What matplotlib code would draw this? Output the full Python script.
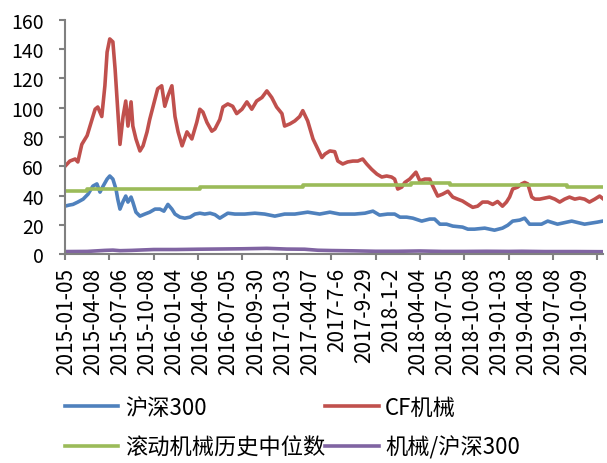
import matplotlib
matplotlib.use("Agg")
import matplotlib.pyplot as plt
from matplotlib.ticker import FixedLocator

plt.rcParams['font.family'] = ['Noto Sans CJK SC', 'DejaVu Sans']

# trading-day index (0 = 2015-01-05) and values read per series
hs300_idx = [0, 9, 18, 29, 41, 52, 63, 72, 79, 86, 95, 101, 108, 115, 119, 124, 131, 137,
             142, 149, 153, 160, 169, 180, 191, 203, 214, 223, 232, 241, 248, 259, 270, 282,
             293, 304, 315, 327, 338, 349, 367, 383, 405, 428, 450, 473, 495, 518, 547, 574,
             597, 619, 635, 653, 676, 694, 709, 727, 743, 755, 770, 784, 804, 822, 833, 845,
             860, 874, 896, 908, 923, 946, 968, 986, 998, 1009, 1025, 1036, 1047, 1074, 1088,
             1110, 1142, 1171, 1200, 1212]
hs300_val = [32.8, 33.5, 34, 35.6, 37.6, 41, 46.5, 48, 42.4, 46.5, 51.3, 53.4, 51.3, 44.5,
             37.6, 30.8, 36, 39.7, 35.6, 39, 35.6, 28.7, 26, 27.4, 28.7, 30.8, 30.8, 29.4, 34,
             30.8, 27.4, 25.3, 24.6, 25.3, 27.4, 28, 27.4, 28, 27, 24.6, 28, 27.4, 27.4, 28,
             27.4, 26, 27.4, 27.4, 28.7, 27.4, 28.7, 27.4, 27.4, 27.4, 28, 29.4, 26.7, 27.4,
             27.4, 25.3, 25.3, 24.6, 22.6, 24, 24, 20.5, 20.5, 19.2, 18.5, 17.1, 17.1, 17.8,
             16.4, 17.8, 19.8, 22.6, 23.3, 24.6, 20.5, 20.5, 22.6, 20.5, 22.6, 20.5, 21.9, 22.6]

cf_idx = [0, 11, 23, 29, 38, 50, 61, 68, 74, 83, 90, 95, 101, 108, 113, 117, 122, 124, 131,
          137, 142, 149, 153, 160, 169, 176, 185, 191, 203, 209, 218, 225, 232, 241, 248, 255,
          264, 275, 286, 297, 304, 311, 320, 331, 338, 349, 356, 367, 378, 387, 399, 410, 421,
          432, 444, 455, 466, 477, 489, 495, 507, 518, 529, 536, 547, 559, 568, 579, 586, 597,
          608, 615, 626, 637, 649, 660, 671, 680, 691, 703, 714, 725, 736, 743, 750, 759, 766,
          777, 791, 800, 811, 822, 829, 840, 851, 863, 874, 885, 896, 908, 919, 930, 941, 953,
          964, 975, 986, 995, 1002, 1009, 1020, 1029, 1036, 1043, 1052, 1059, 1070, 1081, 1092,
          1104, 1115, 1126, 1137, 1149, 1160, 1171, 1182, 1194, 1205, 1212]
cf_val = [60, 63.6, 65, 63, 75, 81, 92, 99, 100.5, 94, 115, 138, 147, 145, 126.5, 108, 85.5,
          75, 94, 104.6, 87.5, 104, 87.5, 78.7, 70.5, 74, 83.5, 92, 106, 113, 115, 101, 108,
          115, 94, 83.5, 74, 83.5, 78.7, 90, 99, 97, 90, 84, 85.5, 92, 100.5, 102.6, 101, 96,
          99, 104, 99, 104.6, 107, 111.5, 107, 100.5, 96, 87.5, 89, 91, 94, 98, 91, 78.7, 73,
          66, 68.4, 70.5, 70, 63.6, 61.6, 63, 63.6, 63.6, 65, 61.6, 58, 54.7, 52.7, 53.4, 52.7,
          51.3, 44.5, 45.8, 49, 51.3, 56, 50, 51.3, 51.3, 46.5, 39.7, 41, 43, 39, 37.6, 36.3,
          34, 32, 32.8, 35.6, 35.6, 34, 36, 32.8, 35.6, 39, 44.5, 45.8, 48, 49, 48, 39, 37.6,
          37.6, 38.3, 39, 37.6, 35.6, 37.6, 39, 37.6, 38.3, 37.6, 35.6, 37.6, 39.7, 38]

median_idx = [0, 50, 304, 536, 779, 867, 1131, 1212]
median_val = [43.1, 44.4, 45.8, 47.2, 48.5, 47.2, 46.0, 46.0]

ratio_idx = [0, 50, 90, 108, 124, 150, 200, 250, 300, 400, 455, 500, 540, 570, 600, 650,
             700, 750, 800, 850, 900, 950, 1000, 1030, 1080, 1150, 1212]
ratio_val = [1.8, 1.9, 2.6, 2.8, 2.4, 2.6, 3.2, 3.2, 3.4, 3.7, 4.0, 3.5, 3.4, 2.7, 2.5, 2.3,
             2.0, 2.0, 2.2, 1.9, 1.9, 2.0, 1.9, 2.0, 1.8, 1.8, 1.7]

date_labels = ['2015-01-05', '2015-04-08', '2015-07-06', '2015-10-08', '2016-01-04',
               '2016-04-06', '2016-07-05', '2016-09-30', '2017-01-03', '2017-04-07',
               '2017-7-6', '2017-9-29', '2018-1-2', '2018-04-04', '2018-07-05',
               '2018-10-08', '2019-01-03', '2019-04-08', '2019-07-08', '2019-10-09']
label_step = 61
n_days = 1212

fig = plt.figure(figsize=(6.07, 4.64), dpi=100)
ax = fig.add_axes([0.107, 0.450, 0.886, 0.505])

lw = 2.6
l1, = ax.plot(hs300_idx, hs300_val, color='#4F81BD', lw=lw, solid_joinstyle='round')
l2, = ax.plot(cf_idx, cf_val, color='#C0504D', lw=lw, solid_joinstyle='round')
l3, = ax.plot(median_idx, median_val, color='#9BBB59', lw=lw, drawstyle='steps-post')
l4, = ax.plot(ratio_idx, ratio_val, color='#8064A2', lw=lw)

ax.set_xlim(0, n_days)
ax.set_ylim(0, 160)
ax.set_yticks(range(0, 161, 20))

# labels every quarter, tick marks every 100 days
ax.set_xticks([3 + label_step * i for i in range(len(date_labels))])
ax.set_xticklabels(date_labels, rotation=90)
ax.xaxis.set_minor_locator(FixedLocator(range(0, n_days + 1, 100)))
ax.tick_params(axis='x', which='major', length=0, pad=9, labelsize=15)
ax.tick_params(axis='x', which='minor', length=4, width=1.5, color='#808080', direction='out')
ax.tick_params(axis='y', length=4, width=1.5, color='#808080', pad=11, labelsize=14)

for s in ['top', 'right']:
    ax.spines[s].set_visible(False)
for s in ['left', 'bottom']:
    ax.spines[s].set_color('#808080')
    ax.spines[s].set_linewidth(1.5)

fig.legend([l1, l3, l2, l4], ['沪深300', '滚动机械历史中位数', 'CF机械', '机械/沪深300'],
           ncol=2, loc='upper left', bbox_to_anchor=(0.107, 0.145), frameon=False,
           fontsize=16, handlelength=2.4, handletextpad=0.3, columnspacing=0.0,
           labelspacing=0.75, borderpad=0, borderaxespad=0)

fig.savefig('out.png', dpi=100)
